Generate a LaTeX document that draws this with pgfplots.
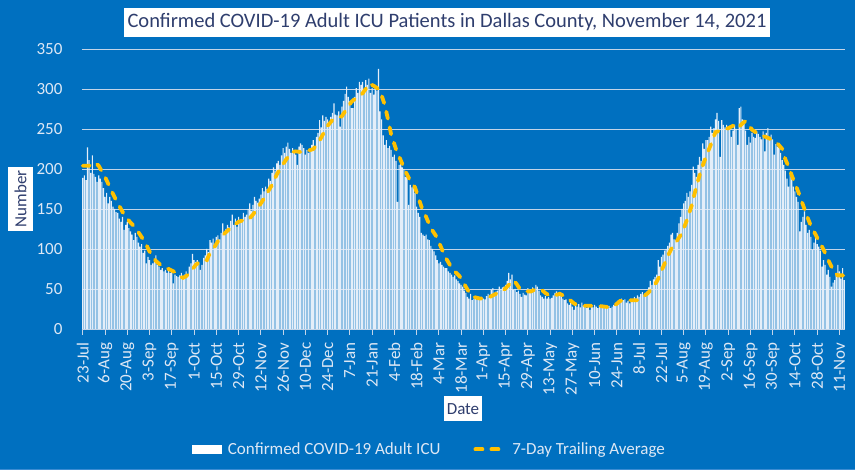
\documentclass[border=0pt]{standalone}
\usepackage{pgfplots}
\pgfplotsset{compat=1.18}
\usepackage{fontspec}
\setmainfont{Carlito}
\definecolor{bg}{RGB}{0,112,192}
\definecolor{lt}{RGB}{222,232,245}
\definecolor{gridc}{RGB}{195,212,232}
\definecolor{navy}{RGB}{47,62,110}
\definecolor{gold}{RGB}{255,192,0}
\definecolor{barc}{RGB}{228,238,249}
\definecolor{borderc}{RGB}{60,140,210}
\begin{document}
\begin{tikzpicture}[x=1pt,y=1pt]
\fill[bg] (0,0) rectangle (855,470);
\draw[borderc, line width=1pt] (0,0.5) -- (855,0.5);
\begin{axis}[
  at={(82pt,141pt)}, anchor=south west,
  scale only axis, width=763pt, height=280pt,
  xmin=-0.5, xmax=479.5, ymin=0, ymax=350,
  separate axis lines,
  x axis line style={draw=gridc, line width=0.9pt},
  y axis line style={draw=none},
  ytick={0,50,...,350},
  ymajorgrids, grid style={draw=gridc, line width=0.9pt},
  xtick={0,14,...,476},
  xticklabels={23-Jul,6-Aug,20-Aug,3-Sep,17-Sep,1-Oct,15-Oct,29-Oct,12-Nov,26-Nov,10-Dec,24-Dec,7-Jan,21-Jan,4-Feb,18-Feb,4-Mar,18-Mar,1-Apr,15-Apr,29-Apr,13-May,27-May,10-Jun,24-Jun,8-Jul,22-Jul,5-Aug,19-Aug,2-Sep,16-Sep,30-Sep,14-Oct,28-Oct,11-Nov},
  xtick pos=bottom, tick align=outside,
  major tick length=6pt,
  xtick style={draw=gridc, line width=0.9pt},
  ytick style={draw=none},
  /pgf/number format/assume math mode=true,
  ticklabel style={font=\fontsize{17}{20}\selectfont, text=lt},
  xticklabel style={rotate=90, anchor=east, xshift=-4pt},
  yticklabel style={xshift=-10pt},
  legend style={at={(axis description cs:0.456,-0.43)}, anchor=center,
    legend columns=2, draw=none, fill=none, text=lt,
    font=\fontsize{17}{20}\selectfont,
    nodes={inner xsep=3pt},
    /tikz/every even column/.append style={column sep=30pt}},
  clip=false,
]
\addplot[ybar, bar width=0.72, fill=barc, draw=none,
  legend image code/.code={\fill[white] (0pt,-4.5pt) rectangle (30pt,4.5pt);\path (33pt,0pt);}]
coordinates {
(0,189)(1,192)(2,186)(3,227)(4,211)(5,195)(6,217)(7,194)(8,190)(9,184)
(10,192)(11,188)(12,184)(13,176)(14,165)(15,170)(16,157)(17,165)(18,160)(19,153)
(20,150)(21,146)(22,145)(23,138)(24,134)(25,140)(26,124)(27,130)(28,134)(29,126)
(30,122)(31,118)(32,111)(33,120)(34,115)(35,108)(36,103)(37,106)(38,95)(39,98)
(40,82)(41,90)(42,86)(43,80)(44,82)(45,84)(46,92)(47,80)(48,78)(49,74)
(50,76)(51,72)(52,74)(53,70)(54,73)(55,70)(56,72)(57,57)(58,68)(59,66)
(60,65)(61,67)(62,70)(63,64)(64,68)(65,72)(66,66)(67,78)(68,82)(69,94)
(70,86)(71,84)(72,86)(73,83)(74,74)(75,80)(76,89)(77,92)(78,100)(79,96)
(80,111)(81,108)(82,113)(83,106)(84,115)(85,117)(86,112)(87,120)(88,132)(89,118)
(90,125)(91,130)(92,127)(93,135)(94,143)(95,130)(96,138)(97,128)(98,140)(99,134)
(100,137)(101,145)(102,140)(103,143)(104,150)(105,157)(106,148)(107,155)(108,165)(109,160)
(110,158)(111,163)(112,168)(113,176)(114,172)(115,178)(116,175)(117,188)(118,185)(119,195)
(120,202)(121,198)(122,207)(123,210)(124,205)(125,217)(126,226)(127,220)(128,228)(129,233)
(130,225)(131,220)(132,226)(133,222)(134,218)(135,205)(136,228)(137,232)(138,230)(139,226)
(140,218)(141,224)(142,220)(143,226)(144,230)(145,236)(146,228)(147,240)(148,245)(149,261)
(150,252)(151,267)(152,260)(153,265)(154,262)(155,258)(156,265)(157,270)(158,282)(159,268)
(160,267)(161,272)(162,253)(163,278)(164,285)(165,294)(166,303)(167,290)(168,285)(169,276)
(170,276)(171,290)(172,301)(173,295)(174,309)(175,305)(176,309)(177,300)(178,311)(179,305)
(180,313)(181,295)(182,301)(183,293)(184,305)(185,298)(186,325)(187,272)(188,262)(189,242)
(190,230)(191,236)(192,226)(193,229)(194,224)(195,215)(196,218)(197,210)(198,159)(199,205)
(200,207)(201,202)(202,200)(203,190)(204,195)(205,155)(206,180)(207,177)(208,178)(209,170)
(210,153)(211,145)(212,140)(213,120)(214,118)(215,116)(216,118)(217,112)(218,111)(219,104)
(220,100)(221,97)(222,92)(223,86)(224,82)(225,84)(226,80)(227,78)(228,76)(229,76)
(230,72)(231,70)(232,68)(233,65)(234,67)(235,62)(236,60)(237,57)(238,55)(239,53)
(240,48)(241,45)(242,40)(243,38)(244,44)(245,36)(246,38)(247,40)(248,37)(249,39)
(250,36)(251,40)(252,38)(253,37)(254,41)(255,44)(256,42)(257,49)(258,51)(259,45)
(260,47)(261,48)(262,53)(263,50)(264,52)(265,53)(266,55)(267,60)(268,70)(269,62)
(270,68)(271,49)(272,50)(273,46)(274,48)(275,44)(276,40)(277,45)(278,43)(279,42)
(280,51)(281,46)(282,49)(283,52)(284,50)(285,55)(286,53)(287,48)(288,42)(289,40)
(290,38)(291,41)(292,38)(293,40)(294,38)(295,39)(296,42)(297,45)(298,47)(299,44)
(300,46)(301,42)(302,38)(303,36)(304,37)(305,32)(306,30)(307,33)(308,28)(309,24)
(310,30)(311,28)(312,31)(313,27)(314,33)(315,29)(316,30)(317,26)(318,31)(319,24)
(320,29)(321,27)(322,30)(323,28)(324,26)(325,29)(326,27)(327,30)(328,26)(329,28)
(330,27)(331,29)(332,26)(333,28)(334,30)(335,29)(336,33)(337,36)(338,34)(339,38)
(340,36)(341,37)(342,33)(343,35)(344,32)(345,36)(346,34)(347,40)(348,38)(349,42)
(350,40)(351,44)(352,46)(353,43)(354,45)(355,47)(356,52)(357,60)(358,55)(359,62)
(360,65)(361,68)(362,86)(363,78)(364,90)(365,93)(366,98)(367,100)(368,104)(369,108)
(370,118)(371,120)(372,112)(373,111)(374,120)(375,132)(376,140)(377,150)(378,157)(379,160)
(380,170)(381,165)(382,172)(383,180)(384,203)(385,195)(386,190)(387,205)(388,215)(389,210)
(390,232)(391,225)(392,236)(393,236)(394,240)(395,253)(396,245)(397,251)(398,262)(399,270)
(400,260)(401,215)(402,261)(403,255)(404,252)(405,255)(406,250)(407,254)(408,240)(409,248)
(410,255)(411,250)(412,230)(413,276)(414,278)(415,262)(416,258)(417,248)(418,230)(419,240)
(420,233)(421,245)(422,240)(423,239)(424,247)(425,244)(426,240)(427,237)(428,247)(429,222)
(430,245)(431,251)(432,240)(433,243)(434,237)(435,218)(436,231)(437,228)(438,227)(439,220)
(440,211)(441,205)(442,198)(443,188)(444,178)(445,193)(446,195)(447,178)(448,172)(449,165)
(450,159)(451,122)(452,134)(453,140)(454,147)(455,130)(456,120)(457,124)(458,115)(459,99)
(460,108)(461,115)(462,106)(463,103)(464,98)(465,78)(466,86)(467,80)(468,68)(469,74)
(470,65)(471,53)(472,58)(473,61)(474,70)(475,80)(476,72)(477,63)(478,76)(479,61)
};
\addlegendentry{Confirmed COVID-19 Adult ICU}
\addplot[gold, line width=3.8pt, line cap=round, dash pattern=on 7pt off 9pt,
  legend image code/.code={\draw[gold, line width=3.8pt, line cap=round, dash pattern=on 7pt off 9pt] (2pt,0pt) -- (31pt,0pt);\path (34pt,0pt);}]
coordinates {
(0,204)(4,204)(8,208)(10,204)(14,190)(18,173)(22,157)(26,143)(30,133)(33,127)
(37,115)(40,105)(43,93)(46,85)(49,80)(52,77)(55,74)(58,71)(61,66)(63,64)
(65,66)(68,72)(71,80)(74,85)(78,86)(80,95)(83,103)(86,113)(90,121)(94,128)
(98,134)(101,136)(104,136)(107,143)(110,151)(113,160)(116,170)(119,180)(122,193)(125,203)
(128,212)(131,221)(134,222)(138,221)(142,223)(145,225)(148,232)(151,243)(154,254)(157,261)
(160,263)(163,266)(166,275)(169,284)(172,289)(175,292)(178,300)(180,307)(183,304)(186,300)
(188,292)(190,280)(192,262)(194,243)(197,225)(200,211)(203,197)(206,185)(209,177)(211,165)
(213,153)(216,140)(219,126)(222,117)(225,104)(228,90)(231,80)(234,72)(237,66)(240,56)
(243,46)(246,40)(250,38)(254,38)(258,42)(262,46)(265,49)(268,55)(271,61)(273,56)
(275,50)(278,47)(282,47)(285,50)(288,50)(291,45)(294,41)(297,42)(300,44)(303,41)
(306,37)(309,32)(312,29)(316,29)(320,29)(324,29)(328,28)(332,27)(335,30)(338,35)
(341,36)(345,36)(349,36)(352,40)(355,44)(358,50)(361,59)(363,67)(365,77)(368,91)
(371,103)(374,111)(377,120)(380,136)(383,154)(386,178)(389,199)(392,215)(395,230)(398,246)
(401,248)(404,249)(407,252)(410,255)(412,251)(415,257)(417,260)(419,255)(421,249)(424,245)
(427,242)(431,239)(434,236)(437,232)(440,225)(442,212)(444,203)(446,192)(448,182)(450,172)
(452,161)(454,150)(456,139)(458,129)(461,118)(463,110)(465,103)(467,95)(469,86)(471,78)
(473,70)(475,67)(479,67)
};
\addlegendentry{7-Day Trailing Average}
\end{axis}
\node[fill=white, text=navy, font=\fontsize{20.5}{24}\selectfont, inner xsep=4pt, inner ysep=0pt, minimum height=29pt] at (447,447.5) {Confirmed COVID-19 Adult ICU Patients in Dallas County, November 14, 2021};
\node[fill=white, text=navy, font=\fontsize{17}{20}\selectfont, rotate=90, inner xsep=3.5pt, inner ysep=0pt, minimum height=25pt] at (20.5,271) {Number};
\node[fill=white, text=navy, font=\fontsize{17}{20}\selectfont, inner xsep=3pt, inner ysep=0pt, minimum height=25pt] at (463,61) {Date};
\pgfresetboundingbox
\path[use as bounding box] (0,0) rectangle (855,470);
\end{tikzpicture}
\end{document}
